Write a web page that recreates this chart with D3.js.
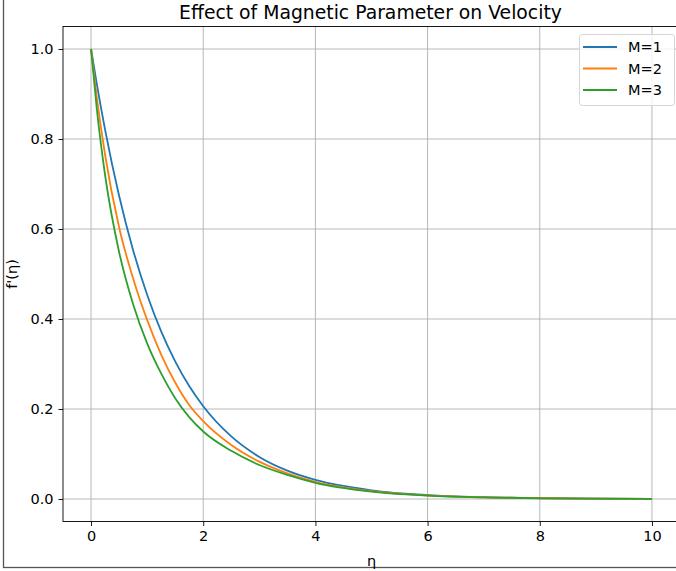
<!DOCTYPE html>
<html>
<head>
<meta charset="utf-8">
<script src="https://cdn.jsdelivr.net/npm/d3@7"></script>
<style>
  html, body { margin: 0; padding: 0; background: #fff; }
  svg { display: block; font-family: "DejaVu Sans", sans-serif; }
</style>
</head>
<body>
<svg id="chart" width="676" height="571"></svg>
<script>
const eta   = [0, 0.1, 0.25, 0.5, 0.75, 1.0, 1.25, 1.5, 1.75, 2.0, 2.5, 3.0, 3.5, 4.0, 5.0, 6.0, 7.0, 8.0, 9.0, 10.0];
const m1    = [1.0, 0.924, 0.821, 0.674, 0.553, 0.454, 0.3725, 0.306, 0.251, 0.206, 0.139, 0.0935, 0.063, 0.0424, 0.0193, 0.0087, 0.004, 0.0018, 0.0008, 0.0004];
const m2    = [1.0, 0.895, 0.765, 0.604, 0.490, 0.398, 0.321, 0.259, 0.209, 0.173, 0.120, 0.083, 0.0570, 0.038, 0.0175, 0.008, 0.0037, 0.0017, 0.0008, 0.0003];
const m3    = [1.0, 0.870, 0.720, 0.549, 0.433, 0.346, 0.279, 0.224, 0.182, 0.150, 0.107, 0.0755, 0.0535, 0.036, 0.0165, 0.0077, 0.0036, 0.0016, 0.0007, 0.0003];
const seriesNames = ["M=1", "M=2", "M=3"];
const colors = ["#1f77b4", "#ff7f0e", "#2ca02c"];
const xTicks = [0, 2, 4, 6, 8, 10];
const yTicks = [0.0, 0.2, 0.4, 0.6, 0.8, 1.0];

const svg = d3.select("#chart");
const L = 63, R = 680, T = 26.5, B = 521.5;

// outer frame
svg.append("rect").attr("x", 3.5).attr("y", -5).attr("width", 720).attr("height", 572.5)
  .attr("fill", "none").attr("stroke", "#555").attr("stroke-width", 1.3);

const x = d3.scaleLinear().domain([-0.5, 10.5]).range([L, R]);
const y = d3.scaleLinear().domain([-0.05, 1.05]).range([B, T]);

// grid
const g = svg.append("g");
g.selectAll(".vg").data(xTicks).join("line")
  .attr("x1", d => x(d)).attr("x2", d => x(d)).attr("y1", T).attr("y2", B)
  .attr("stroke", "#b0b0b0").attr("stroke-width", 0.9);
g.selectAll(".hg").data(yTicks).join("line")
  .attr("y1", d => y(d)).attr("y2", d => y(d)).attr("x1", L).attr("x2", R)
  .attr("stroke", "#b0b0b0").attr("stroke-width", 0.9);

// lines
const series = [m1, m2, m3];
const line = d3.line().x((d, i) => x(eta[i])).y(d => y(d)).curve(d3.curveMonotoneX);
series.forEach((s, k) => {
  svg.append("path").datum(s).attr("d", line)
    .attr("fill", "none").attr("stroke", colors[k]).attr("stroke-width", 1.8);
});

// axes
const xAxis = d3.axisBottom(x).tickValues(xTicks).tickFormat(d3.format("d")).tickSizeOuter(0).tickSize(4.5).tickPadding(5);
const yAxis = d3.axisLeft(y).tickValues(yTicks).tickFormat(d3.format(".1f")).tickSizeOuter(0).tickSize(4.5).tickPadding(5);
const gx = svg.append("g").attr("transform", `translate(0,${B})`).call(xAxis);
const gy = svg.append("g").attr("transform", `translate(${L},0)`).call(yAxis);
[gx, gy].forEach(a => {
  a.select(".domain").remove();
  a.selectAll("text").attr("font-size", 14.5).attr("fill", "#000").attr("font-family", "DejaVu Sans");
  a.selectAll("line").attr("stroke", "#000").attr("stroke-width", 0.9);
});
// spines
svg.append("rect").attr("x", L).attr("y", T).attr("width", R - L).attr("height", B - T)
  .attr("fill", "none").attr("stroke", "#000").attr("stroke-width", 0.9);

// title and labels
svg.append("text").attr("x", (L + R) / 2 - 1).attr("y", 19).attr("text-anchor", "middle")
  .attr("font-size", 18.8).text("Effect of Magnetic Parameter on Velocity");
svg.append("text").attr("x", (L + R) / 2).attr("y", 566).attr("text-anchor", "middle")
  .attr("font-size", 14.5).text("η");
svg.append("text").attr("transform", `translate(17,${(T + B) / 2}) rotate(-90)`)
  .attr("text-anchor", "middle").attr("font-size", 14.5).text("f'(η)");

// legend
const lg = svg.append("g");
lg.append("rect").attr("x", 579.5).attr("y", 34.5).attr("width", 95).attr("height", 71).attr("rx", 3)
  .attr("fill", "rgba(255,255,255,0.8)").attr("stroke", "#d5d5d5").attr("stroke-width", 1);
seriesNames.forEach((n, k) => {
  const yy = 47 + k * 21.5;
  lg.append("line").attr("x1", 583).attr("x2", 617).attr("y1", yy).attr("y2", yy)
    .attr("stroke", colors[k]).attr("stroke-width", 1.8);
  lg.append("text").attr("x", 628).attr("y", yy + 5).attr("font-size", 14.5).text(n);
});
</script>
</body>
</html>
